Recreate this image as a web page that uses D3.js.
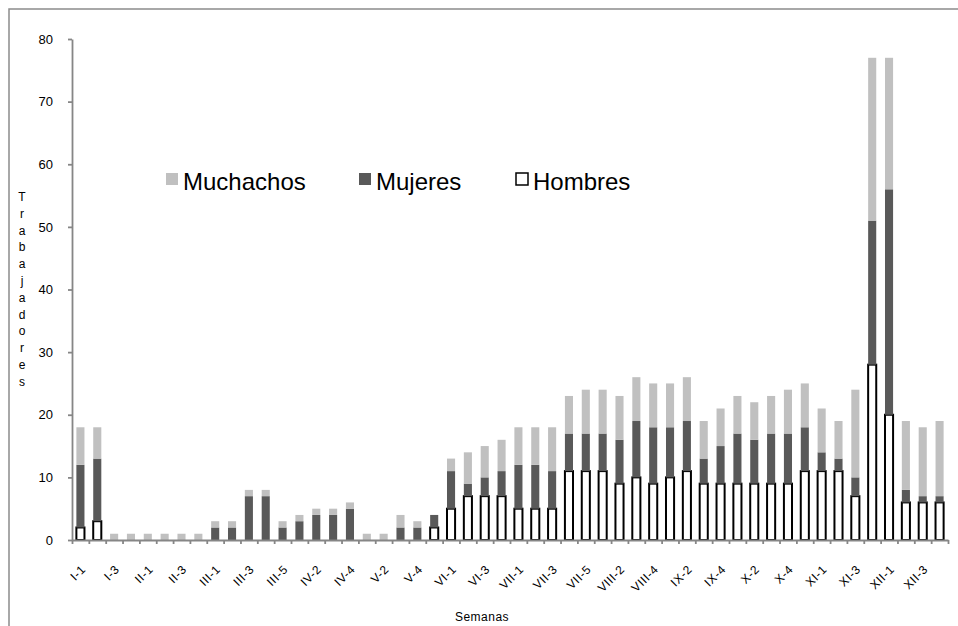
<!DOCTYPE html>
<html lang="es">
<head>
<meta charset="UTF-8">
<title>Trabajadores por semana</title>
<script src="https://cdn.jsdelivr.net/npm/d3@7"></script>
<style>
	body { margin: 0; background: #fff; }
	svg { display: block; background: #fff; font-family: "Liberation Sans", Arial, sans-serif; }
	.axis path, .axis line { stroke: #868686; stroke-width: 1.8; }
	.axis text { fill: #000; font-size: 13px; font-family: "Liberation Sans", Arial, sans-serif; }
	.wk { font-size: 12px; letter-spacing: 0.6px; }
	.legend text { font-size: 24px; }
</style>
</head>
<body>
<div id="viz"></div>
<script>
// semanas (mes-semana)
var weeks = ["I-1","I-2","I-3","I-4","II-1","II-2","II-3","II-4",
	"III-1","III-2","III-3","III-4","III-5","IV-1","IV-2","IV-3","IV-4",
	"V-1","V-2","V-3","V-4","V-5","VI-1","VI-2","VI-3","VI-4",
	"VII-1","VII-2","VII-3","VII-4","VII-5","VIII-1","VIII-2","VIII-3","VIII-4",
	"IX-1","IX-2","IX-3","IX-4","X-1","X-2","X-3","X-4","X-5",
	"XI-1","XI-2","XI-3","XI-4","XII-1","XII-2","XII-3","XII-4"];

var hombres   = [2,3,0,0,0,0,0,0, 0,0,0,0,0, 0,0,0,0, 0,0,0,0,2, 5,7,7,7,
	5,5,5,11,11, 11,9,10,9, 10,11,9,9, 9,9,9,9,11, 11,11,7,28, 20,6,6,6];
var mujeres   = [10,10,0,0,0,0,0,0, 2,2,7,7,2, 3,4,4,5, 0,0,2,2,2, 6,2,3,4,
	7,7,6,6,6, 6,7,9,9, 8,8,4,6, 8,7,8,8,7, 3,2,3,23, 36,2,1,1];
var muchachos = [6,5,1,1,1,1,1,1, 1,1,1,1,1, 1,1,1,1, 1,1,2,1,0, 2,5,5,5,
	6,6,7,6,7, 7,7,7,7, 7,7,6,6, 6,6,6,7,7, 7,6,14,26, 21,11,11,12];

var yTicks = [0,10,20,30,40,50,60,70,80];
var series = ["Hombres","Mujeres","Muchachos"];
var colors = {Hombres: "#fff", Mujeres: "#595959", Muchachos: "#c0c0c0"};
var legendOrder = ["Muchachos","Mujeres","Hombres"];

var width = 958, height = 626;
var plotL = 72, plotR = 948, plotT = 39, plotB = 540;

var svg = d3.select("#viz").append("svg")
	.attr("width", width)
	.attr("height", height);

// marco
svg.append("rect")
	.attr("x", 9).attr("y", 9)
	.attr("width", 970).attr("height", 640)
	.attr("fill", "none")
	.attr("stroke", "#8c8c8c")
	.attr("stroke-width", 1.5);

var table = weeks.map(function (w, i) {
	return {week: w, Hombres: hombres[i], Mujeres: mujeres[i], Muchachos: muchachos[i]};
});

var stack = d3.stack().keys(series)(table);

var x = d3.scaleBand()
	.domain(weeks)
	.range([plotL, plotR])
	.paddingInner(0.52)
	.paddingOuter(0.26);

var xb = d3.scaleLinear().domain([0, weeks.length]).range([plotL, plotR]);

var y = d3.scaleLinear().domain([0, 80]).range([plotB, plotT]);

// barras
var layers = svg.append("g").selectAll("g")
	.data(stack)
	.enter().append("g")
	.attr("fill", function (d) { return colors[d.key]; })
	.attr("stroke", function (d) { return d.key === "Hombres" ? "#000" : "none"; })
	.attr("stroke-width", 2);

layers.selectAll("rect")
	.data(function (d) { return d.filter(function (p) { return p[1] - p[0] > 0; }); })
	.enter().append("rect")
	.attr("x", function (d) { return x(d.data.week); })
	.attr("width", x.bandwidth())
	.attr("y", function (d) { return y(d[1]); })
	.attr("height", function (d) { return y(d[0]) - y(d[1]); });

// eje y
svg.append("g")
	.attr("class", "axis")
	.attr("transform", "translate(" + plotL + ",0)")
	.call(d3.axisLeft(y).tickValues(yTicks).tickSize(4).tickSizeOuter(0).tickPadding(15));

// eje x
svg.append("g")
	.attr("class", "axis")
	.attr("transform", "translate(0," + plotB + ")")
	.call(d3.axisBottom(xb).tickValues(d3.range(weeks.length + 1)).tickSize(4).tickSizeOuter(0).tickFormat(""));

svg.append("g").selectAll("text")
	.data(weeks.filter(function (w, i) { return i % 2 === 0; }))
	.enter().append("text")
	.attr("class", "wk")
	.attr("text-anchor", "end")
	.attr("transform", function (d) {
		return "translate(" + (x(d) + x.bandwidth() / 2 + 6) + ",570) rotate(-45)";
	})
	.text(function (d) { return d; });

// titulos
svg.append("text")
	.attr("x", 482).attr("y", 621)
	.attr("text-anchor", "middle")
	.style("font-size", "12px")
	.style("letter-spacing", "0.5px")
	.text("Semanas");

svg.append("g").selectAll("text")
	.data("Trabajadores".split(""))
	.enter().append("text")
	.attr("x", 22)
	.attr("y", function (d, i) { return 201 + i * 16.8; })
	.attr("text-anchor", "middle")
	.style("font-size", "12px")
	.text(function (d) { return d; });

// leyenda
var legendX = {Muchachos: 166, Mujeres: 359, Hombres: 516};
var legend = svg.append("g").attr("class", "legend");
legendOrder.forEach(function (k) {
	legend.append("rect")
		.attr("x", legendX[k]).attr("y", 173)
		.attr("width", 12).attr("height", 12)
		.attr("fill", colors[k])
		.attr("stroke", k === "Hombres" ? "#000" : "none")
		.attr("stroke-width", 1.5);
	legend.append("text")
		.attr("x", legendX[k] + 17).attr("y", 190)
		.text(k);
});
</script>
</body>
</html>
